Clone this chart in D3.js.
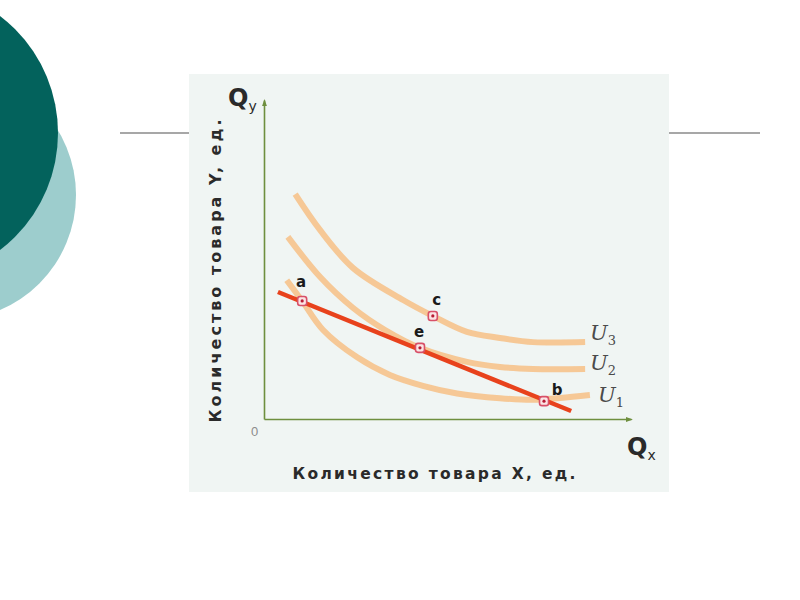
<!DOCTYPE html>
<html>
<head>
<meta charset="utf-8">
<script src="https://cdn.jsdelivr.net/npm/d3@7"></script>
<style>
  html, body { margin: 0; padding: 0; background: #ffffff; }
  svg { display: block; }
</style>
</head>
<body>
<svg id="chart" width="800" height="600"></svg>
<script>
// ---- data (in chart units) ----
const curveNames = ["U3", "U2", "U1"];
const u3 = [[0.85,7.05],[1.53,5.92],[2.43,4.73],[3.79,3.73],[4.60,3.23],[5.53,2.73],[6.43,2.54],[7.33,2.41],[8.75,2.41]];
const u2 = [[0.65,5.71],[1.53,4.45],[2.43,3.48],[3.30,2.79],[4.25,2.23],[5.53,1.79],[6.43,1.63],[7.33,1.57],[8.75,1.57]];
const u1 = [[0.62,4.35],[1.04,3.70],[1.61,2.79],[2.53,1.94],[3.43,1.38],[4.33,1.04],[5.26,0.80],[6.43,0.65],[7.33,0.60],[8.07,0.66],[8.88,0.75]];
const budget = [[0.38,3.98],[8.37,0.25]];
const pointNames = ["a", "c", "e", "b"];
const pointValues = [[1.04,3.70],[4.60,3.23],[4.25,2.23],[7.63,0.56]];
const tickLabels = ["0"];
const xTitle = "Количество товара X, ед.";
const yTitle = "Количество товара Y, ед.";

const svg = d3.select("#chart");

// ---- slide decoration ----
svg.append("circle").attr("cx", -49).attr("cy", 195).attr("r", 125).attr("fill", "#9dcdcd");
svg.append("circle").attr("cx", -89).attr("cy", 133).attr("r", 147).attr("fill", "#03625c");
svg.append("line").attr("x1", 120).attr("x2", 190).attr("y1", 133).attr("y2", 133).attr("stroke", "#8a8a8a").attr("stroke-width", 1.5);
svg.append("line").attr("x1", 668).attr("x2", 760).attr("y1", 133).attr("y2", 133).attr("stroke", "#8a8a8a").attr("stroke-width", 1.5);

// panel
svg.append("rect").attr("x", 189).attr("y", 74).attr("width", 480).attr("height", 418).attr("fill", "#f0f5f3");

// ---- scales ----
const x = d3.scaleLinear().domain([0, 10]).range([264, 631]);
const y = d3.scaleLinear().domain([0, 10]).range([419, 100]);

const axisColor = "#6e8f3e";
const defs = svg.append("defs");
defs.append("marker").attr("id", "arr").attr("viewBox", "0 0 10 10")
  .attr("refX", 8).attr("refY", 5).attr("markerWidth", 7).attr("markerHeight", 7)
  .attr("markerUnits", "userSpaceOnUse").attr("orient", "auto")
  .append("path").attr("d", "M0,1.5L10,5L0,8.5Z").attr("fill", axisColor);

const gx = svg.append("g").attr("transform", `translate(0,${y(0)})`)
  .call(d3.axisBottom(x).tickValues([]).tickSizeOuter(0));
gx.select(".domain").attr("stroke", axisColor).attr("stroke-width", 1.6).attr("marker-end", "url(#arr)");

const gy = svg.append("g").attr("transform", `translate(${x(0)},0)`)
  .call(d3.axisLeft(y).tickValues([]).tickSizeOuter(0));
gy.select(".domain").attr("stroke", axisColor).attr("stroke-width", 1.6).attr("marker-end", "url(#arr)");

// tick label "0"
svg.append("text").attr("x", x(0) - 13).attr("y", y(0) + 17)
  .attr("font-family", "Liberation Sans, Arial, sans-serif").attr("font-size", 13)
  .attr("fill", "#8c8c8c").text(tickLabels[0]);

// ---- curves ----
const line = d3.line().x(d => x(d[0])).y(d => y(d[1])).curve(d3.curveCatmullRom.alpha(0.5));
[u3, u2, u1].forEach(c => {
  svg.append("path").attr("d", line(c)).attr("fill", "none")
    .attr("stroke", "#f5c590").attr("stroke-width", 6).attr("stroke-linecap", "butt").attr("opacity", 0.95);
});

// budget line
svg.append("path").attr("d", d3.line().x(d => x(d[0])).y(d => y(d[1]))(budget))
  .attr("fill", "none").attr("stroke", "#e8421c").attr("stroke-width", 4.5);

// points
const pts = svg.append("g");
pointValues.forEach((p, i) => {
  const cx = x(p[0]), cy = y(p[1]);
  pts.append("rect").attr("x", cx - 4.5).attr("y", cy - 4.5).attr("width", 9).attr("height", 9)
    .attr("rx", 2.5).attr("fill", "#fbe4e4").attr("stroke", "#d85068").attr("stroke-width", 1.6);
  pts.append("circle").attr("cx", cx).attr("cy", cy).attr("r", 1.6).attr("fill", "#b81c34");
});
const labelOffsets = [[-1, -14], [4, -11], [-1, -11], [13, -6]];
pointNames.forEach((n, i) => {
  svg.append("text").attr("x", x(pointValues[i][0]) + labelOffsets[i][0]).attr("y", y(pointValues[i][1]) + labelOffsets[i][1])
    .attr("text-anchor", "middle").attr("font-family", "DejaVu Sans, sans-serif")
    .attr("font-weight", "bold").attr("font-size", 15).attr("fill", "#1a1a1a").text(n);
});

// curve labels
const uLabelPos = [[590, 340], [590, 370], [598, 402]];
curveNames.forEach((n, i) => {
  const t = svg.append("text").attr("x", uLabelPos[i][0]).attr("y", uLabelPos[i][1])
    .attr("font-family", "DejaVu Serif, Liberation Serif, serif").attr("font-style", "italic")
    .attr("font-size", 21).attr("fill", "#4a4a4a");
  t.append("tspan").text(n[0]);
  t.append("tspan").attr("font-size", 13).attr("font-style", "normal").attr("dy", 5).text(n.slice(1));
});

// axis end labels
const qy = svg.append("text").attr("x", 228).attr("y", 106)
  .attr("font-family", "DejaVu Sans, sans-serif").attr("font-weight", "bold").attr("font-size", 24).attr("fill", "#2a2a2a");
qy.append("tspan").text("Q");
qy.append("tspan").attr("font-size", 14).attr("font-weight", "normal").attr("dy", 5).text("y");

const qx = svg.append("text").attr("x", 627).attr("y", 455)
  .attr("font-family", "DejaVu Sans, sans-serif").attr("font-weight", "bold").attr("font-size", 24).attr("fill", "#2a2a2a");
qx.append("tspan").text("Q");
qx.append("tspan").attr("font-size", 14).attr("font-weight", "normal").attr("dy", 5).text("x");

// axis titles
svg.append("text").attr("x", 434).attr("y", 479).attr("text-anchor", "middle")
  .attr("font-family", "DejaVu Sans, sans-serif").attr("font-weight", "bold")
  .attr("font-size", 15.5).attr("fill", "#2a2a2a")
  .attr("textLength", 283).attr("lengthAdjust", "spacing").text(xTitle);

svg.append("text").attr("transform", "translate(221,271) rotate(-90)").attr("text-anchor", "middle")
  .attr("font-family", "DejaVu Sans, sans-serif").attr("font-weight", "bold")
  .attr("font-size", 16).attr("fill", "#2a2a2a")
  .attr("textLength", 303).attr("lengthAdjust", "spacing").text(yTitle);
</script>
</body>
</html>
